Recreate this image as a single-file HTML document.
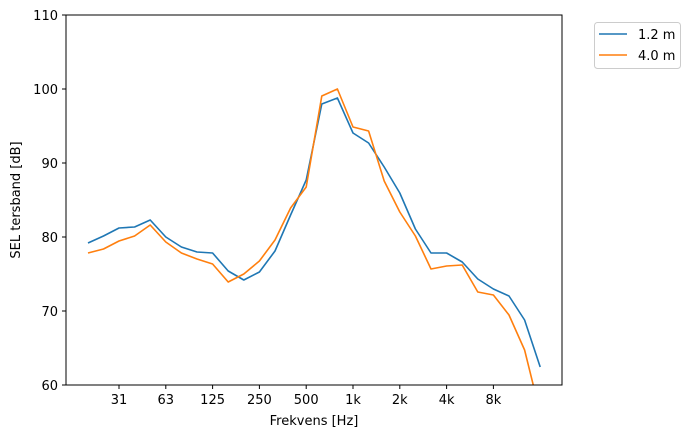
<!DOCTYPE html>
<html><head><meta charset="utf-8"><style>
body{margin:0;background:#fff}
text{font-family:"DejaVu Sans","Liberation Sans",sans-serif;font-size:13px;fill:#000}
</style></head><body>
<svg width="693" height="438" xmlns="http://www.w3.org/2000/svg">
<defs><clipPath id="c"><rect x="66" y="15" width="496" height="370"/></clipPath></defs>
<g clip-path="url(#c)" fill="none" stroke-width="1.6" stroke-linejoin="round">
<polyline stroke="#1f77b4" points="88,243 103.5,236 119,228 134.6,227 150.2,220 165.8,237 181.4,247 197,252 212.6,253 228.2,271 243.8,280 259.4,272 275,251 290.6,215 306.2,180 321.8,104 337.4,98 353,133 368.6,143 384.2,167 399.8,193 415.4,229 431,253 446.6,253 462.2,262 477.8,279 493.4,289 509,296 524.6,320 540.2,367"/>
<polyline stroke="#ff7f0e" points="88,253 103.5,249 119,241 134.6,236 150.2,225 165.8,242 181.4,253 197,259 212.6,264 228.2,282 243.8,274 259.4,261 275,240 290.6,208 306.2,187 321.8,96 337.4,89 353,127 368.6,131 384.2,181 399.8,212 415.4,236 431,269 446.6,266 462.2,265 477.8,292 493.4,295 509,315 524.6,350 534,388"/>
</g>
<rect x="66" y="15" width="496" height="370" fill="none" stroke="#000" stroke-width="1"/>
<g stroke="#000" stroke-width="1">
<line x1="62" y1="15" x2="66" y2="15"/><line x1="62" y1="89" x2="66" y2="89"/><line x1="62" y1="163" x2="66" y2="163"/><line x1="62" y1="237" x2="66" y2="237"/><line x1="62" y1="311" x2="66" y2="311"/><line x1="62" y1="385" x2="66" y2="385"/>
<line x1="119" y1="385" x2="119" y2="389"/><line x1="165.8" y1="385" x2="165.8" y2="389"/><line x1="212.6" y1="385" x2="212.6" y2="389"/><line x1="259.4" y1="385" x2="259.4" y2="389"/><line x1="306.2" y1="385" x2="306.2" y2="389"/><line x1="353" y1="385" x2="353" y2="389"/><line x1="399.8" y1="385" x2="399.8" y2="389"/><line x1="446.6" y1="385" x2="446.6" y2="389"/><line x1="493.4" y1="385" x2="493.4" y2="389"/>
</g>
<g text-anchor="end">
<text x="58" y="20">110</text><text x="58" y="94">100</text><text x="58" y="168">90</text><text x="58" y="242">80</text><text x="58" y="316">70</text><text x="58" y="390">60</text>
</g>
<g text-anchor="middle">
<text x="119" y="404">31</text><text x="165.8" y="404">63</text><text x="212.6" y="404">125</text><text x="259.4" y="404">250</text><text x="306.2" y="404">500</text><text x="353" y="404">1k</text><text x="399.8" y="404">2k</text><text x="446.6" y="404">4k</text><text x="493.4" y="404">8k</text>
<text x="314" y="425">Frekvens [Hz]</text>
<text transform="translate(20,200) rotate(-90)">SEL tersband [dB]</text>
</g>
<rect x="594.5" y="22.5" width="86" height="46" rx="3" fill="#fff" stroke="#ccc"/>
<line x1="599" y1="34" x2="627" y2="34" stroke="#1f77b4" stroke-width="1.6"/>
<line x1="599" y1="55" x2="627" y2="55" stroke="#ff7f0e" stroke-width="1.6"/>
<text x="638" y="39">1.2 m</text><text x="638" y="60">4.0 m</text>
</svg>
</body></html>
